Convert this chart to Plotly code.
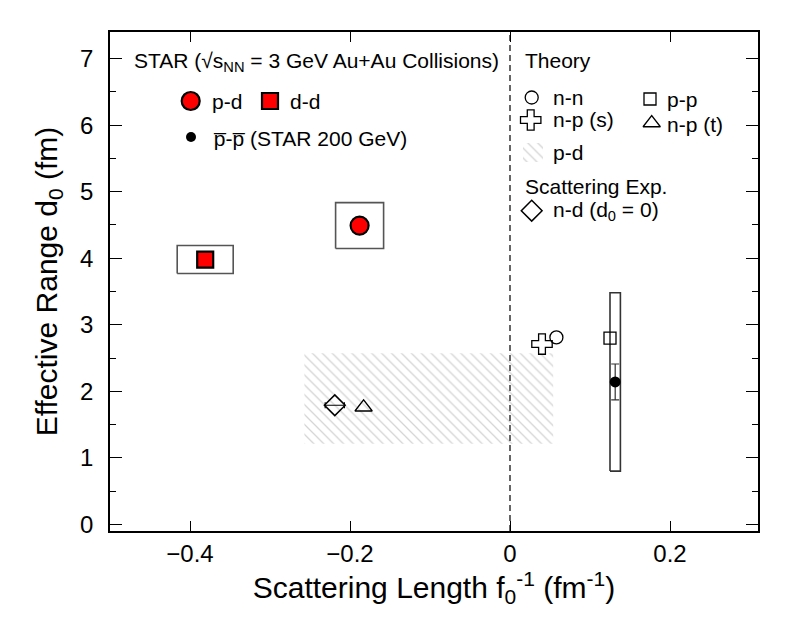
import plotly.graph_objects as go

# ---------------- data ----------------
# STAR 3 GeV measurements
pd_f = [-0.188]; pd_d = [4.49]; pd_sysf = [0.030]; pd_sysd = [0.345]
dd_f = [-0.381]; dd_d = [3.98]; dd_sysf = [0.035]; dd_sysd = [0.21]
# STAR 200 GeV pbar-pbar
pp2_f = [0.1315]; pp2_d = [2.14]; pp2_errd = [0.27]; pp2_sysf = [0.0065]; pp2_sysd = [1.34]
# Theory
nn_f = [0.058]; nn_d = [2.81]
pp_f = [0.125]; pp_d = [2.80]
nps_f = [0.040]; nps_d = [2.71]
npt_f = [-0.183]; npt_d = [1.76]
# Theory p-d band
band_f = [-0.257, 0.054]
band_d = [1.21, 2.57]
# Scattering experiment n-d
nd_f = [-0.219]; nd_d = [1.79]; nd_errf = [0.012]

x_range = [-0.5, 0.31]
y_range = [-0.1, 7.4]
x_ticks = [-0.4, -0.2, 0, 0.2]
x_ticklabels = ["\u22120.4", "\u22120.2", "0", "0.2"]

FONT = "Liberation Sans, Arial, sans-serif"
OFF = 8  # page body margin
W, H = 797 - OFF, 638 - OFF
L, R, T, B = 110 - OFF, 39, 32 - OFF, 107
# plot area in screenshot pixels (used for placing the legend)
PX0, PX1 = 110, 758
PY0, PY1 = 32, 531

def px2paper(px, py):
    return (px - PX0) / (PX1 - PX0), (PY1 - py) / (PY1 - PY0)

def px2data(pxs, pys):
    xs = [x_range[0] + (p - PX0) / (PX1 - PX0) * (x_range[1] - x_range[0]) for p in pxs]
    ys = [y_range[0] + (PY1 - p) / (PY1 - PY0) * (y_range[1] - y_range[0]) for p in pys]
    return xs, ys

fig = go.Figure()

def box_trace(xc, yc, sx, sy, color="#555555", width=1.6):
    xs, ys = [], []
    for a, b, c, d in zip(xc, yc, sx, sy):
        xs += [a - c, a + c, a + c, a - c, a - c, None]
        ys += [b - d, b - d, b + d, b + d, b - d, None]
    return go.Scatter(x=xs, y=ys, mode="lines", line=dict(color=color, width=width),
                      hoverinfo="skip", showlegend=False)

HATCH = dict(shape="\\", fgcolor="#aaaaaa", bgcolor="rgba(0,0,0,0)", size=7, solidity=0.18)

# hatched p-d band
fig.add_trace(go.Scatter(
    x=[band_f[0], band_f[1], band_f[1], band_f[0], band_f[0]],
    y=[band_d[0], band_d[0], band_d[1], band_d[1], band_d[0]],
    mode="lines", fill="toself", line=dict(width=0, color="rgba(0,0,0,0)"),
    fillcolor="rgba(0,0,0,0)", fillpattern=HATCH, showlegend=False, hoverinfo="skip"))

# systematic boxes
fig.add_trace(box_trace(dd_f, dd_d, dd_sysf, dd_sysd))
fig.add_trace(box_trace(pd_f, pd_d, pd_sysf, pd_sysd))
fig.add_trace(box_trace(pp2_f, pp2_d, pp2_sysf, pp2_sysd, color="#333333", width=1.6))

# theory markers
fig.add_trace(go.Scatter(x=nn_f, y=nn_d, mode="markers",
    marker=dict(symbol="circle-open", size=13, color="black", line=dict(width=1.3)), showlegend=False))
fig.add_trace(go.Scatter(x=pp_f, y=pp_d, mode="markers",
    marker=dict(symbol="square-open", size=12, color="black", line=dict(width=1.3)), showlegend=False))
fig.add_trace(go.Scatter(x=nps_f, y=nps_d, mode="markers",
    marker=dict(symbol="cross-open", size=17, color="black", line=dict(width=1.3)), showlegend=False))
fig.add_trace(go.Scatter(x=npt_f, y=npt_d, mode="markers",
    marker=dict(symbol="triangle-up-open", size=15, color="black", line=dict(width=1.3)), showlegend=False))
fig.add_trace(go.Scatter(x=nd_f, y=nd_d, mode="markers",
    error_x=dict(type="data", array=nd_errf, color="black", thickness=1.2, width=3),
    marker=dict(symbol="diamond-open", size=16, color="black", line=dict(width=1.5)), showlegend=False))

# STAR points
fig.add_trace(go.Scatter(x=pp2_f, y=pp2_d, mode="markers",
    error_y=dict(type="data", array=pp2_errd, color="#333333", thickness=1.2, width=4),
    marker=dict(symbol="circle", size=11, color="black"), showlegend=False))
fig.add_trace(go.Scatter(x=dd_f, y=dd_d, mode="markers",
    marker=dict(symbol="square", size=16, color="#ff0000", line=dict(width=2.2, color="black")), showlegend=False))
fig.add_trace(go.Scatter(x=pd_f, y=pd_d, mode="markers",
    marker=dict(symbol="circle", size=18, color="#ff0000", line=dict(width=2.2, color="black")), showlegend=False))

# ---------------- legend keys (placed by screenshot pixel, converted to axis units) ----------------
def key(px, py, marker):
    xs, ys = px2data([px], [py])
    fig.add_trace(go.Scatter(x=xs, y=ys, mode="markers", marker=marker,
                             showlegend=False, hoverinfo="skip"))

key(190.7, 101, dict(symbol="circle", size=18, color="#ff0000", line=dict(width=2.2, color="black")))
key(270, 101, dict(symbol="square", size=16, color="#ff0000", line=dict(width=2.2, color="black")))
key(191, 137, dict(symbol="circle", size=10, color="black"))
key(531.7, 97.5, dict(symbol="circle-open", size=13, color="black", line=dict(width=1.3)))
key(650, 99, dict(symbol="square-open", size=12, color="black", line=dict(width=1.3)))
key(530.7, 120, dict(symbol="cross-open", size=17, color="black", line=dict(width=1.3)))
key(651.7, 123, dict(symbol="triangle-up-open", size=15, color="black", line=dict(width=1.3)))
key(531.7, 210.7, dict(symbol="diamond-open", size=16, color="black", line=dict(width=1.5)))
hx, hy = px2data([523, 543, 543, 523, 523], [143, 143, 162, 162, 143])
fig.add_trace(go.Scatter(x=hx, y=hy, mode="lines",
    fill="toself", line=dict(width=0, color="rgba(0,0,0,0)"), fillcolor="rgba(0,0,0,0)",
    fillpattern=HATCH, showlegend=False, hoverinfo="skip"))

legend_texts = [
    (132, 62, "STAR (\u221as<sub>NN</sub> = 3 GeV Au+Au Collisions)"),
    (210, 101, "p-d"),
    (288, 101, "d-d"),
    (211, 138, "p\u0305-p\u0305 (STAR 200 GeV)"),
    (523, 61, "Theory"),
    (551, 97, "n-n"),
    (665, 99, "p-p"),
    (551, 120, "n-p (s)"),
    (665, 125, "n-p (t)"),
    (551, 152, "p-d"),
    (523, 186, "Scattering Exp."),
    (551, 211, "n-d (d<sub>0</sub> = 0)"),
]
for px, py, txt in legend_texts:
    ax, ay = px2paper(px, py)
    fig.add_annotation(x=ax, y=ay, xref="paper", yref="paper", text=txt, showarrow=False,
                       xanchor="left", yanchor="middle", font=dict(family=FONT, size=21, color="black"))

# dashed line at f=0
fig.add_shape(type="line", x0=0, x1=0, y0=0, y1=1, xref="x", yref="paper",
              line=dict(color="black", width=1.2, dash="6px,4px"))

fig.update_layout(
    width=W, height=H,
    margin=dict(l=L, r=R, t=T, b=B, autoexpand=False),
    paper_bgcolor="white", plot_bgcolor="white",
    font=dict(family=FONT, color="black"),
    xaxis=dict(range=x_range, tickvals=x_ticks, ticktext=x_ticklabels, automargin=False,
               ticks="inside", ticklen=10, tickwidth=1.3, tickcolor="black",
               showline=True, linecolor="black", linewidth=1.5, mirror="ticks",
               showgrid=False, zeroline=False, tickfont=dict(size=24),
               ticklabelstandoff=0,
               title=dict(text="Scattering Length f<sub>0</sub><sup>-1</sup> (fm<sup>-1</sup>)",
                          font=dict(size=30), standoff=8)),
    yaxis=dict(range=y_range, dtick=1, tick0=0, automargin=False,
               ticks="inside", ticklen=12, tickwidth=1.3, tickcolor="black",
               minor=dict(dtick=0.5, ticks="inside", ticklen=6, tickwidth=1.3, tickcolor="black"),
               showline=True, linecolor="black", linewidth=1.5, mirror="ticks",
               showgrid=False, zeroline=False, tickfont=dict(size=24),
               ticklabelstandoff=10,
               title=dict(text="Effective Range d<sub>0</sub> (fm)", font=dict(size=30), standoff=14)),
    showlegend=False,
)

fig.write_html("out.html")
